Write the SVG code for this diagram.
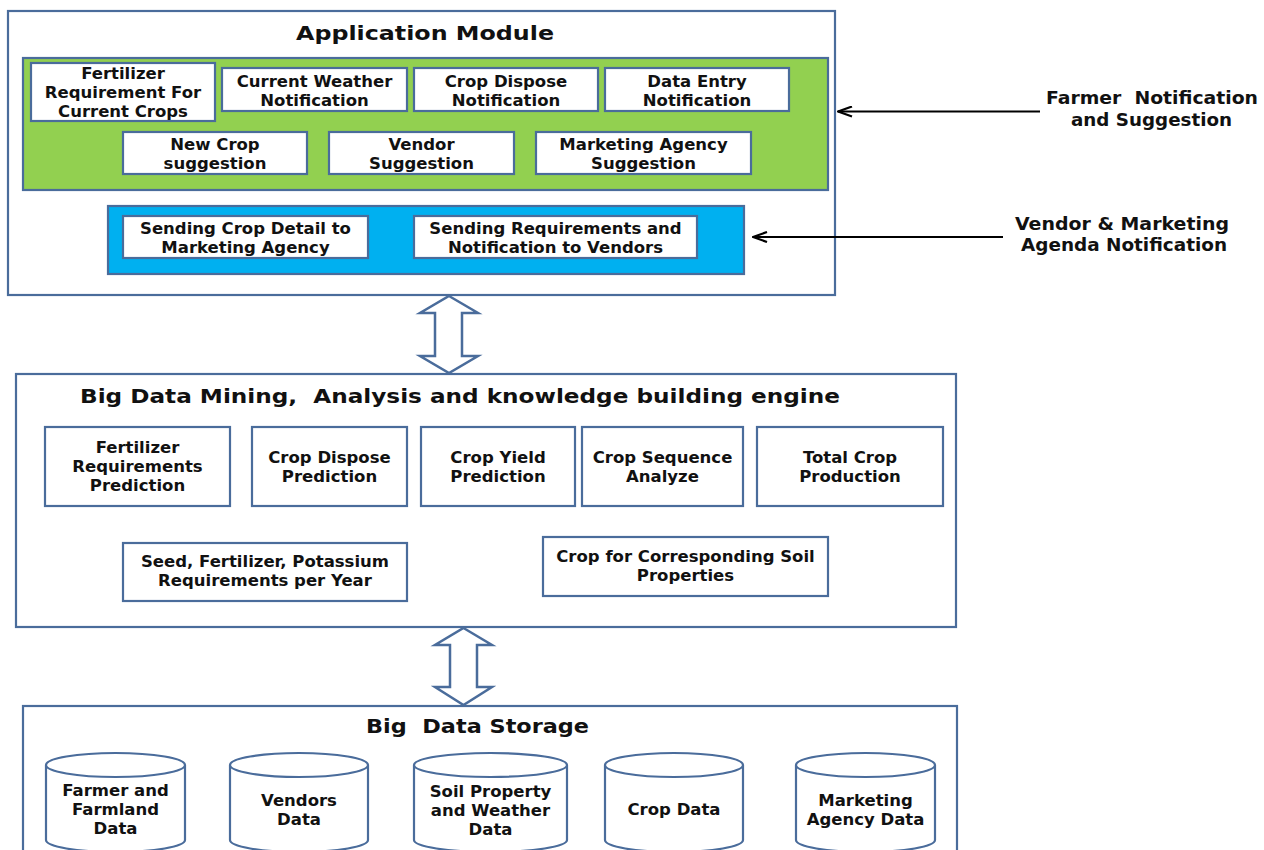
<svg xmlns="http://www.w3.org/2000/svg" width="1264" height="850" viewBox="0 0 1264 850">
<defs>
<style>
.frame{fill:#fff;stroke:#4a6c9b;stroke-width:2.2}
.box{fill:#fff;stroke:#4a6c9b;stroke-width:2.2}
.green{fill:#92d050;stroke:#4a6c9b;stroke-width:2.2}
.blue{fill:#00b0f0;stroke:#4a6c9b;stroke-width:2.2}
.dbl{fill:#fff;stroke:#4a6c9b;stroke-width:2.5;stroke-linejoin:miter}
.cyl{fill:#fff;stroke:#4a6c9b;stroke-width:2.2}
text{font-family:"DejaVu Sans","Liberation Sans",sans-serif;font-weight:bold;fill:#111}
.t{font-size:16.5px;text-anchor:middle}
.title{font-size:20px;white-space:pre}
.side{font-size:17px;white-space:pre}
.conn{stroke:#000;stroke-width:2.2;fill:none}
</style>
<marker id="ah" markerUnits="userSpaceOnUse" viewBox="0 0 16 12" markerWidth="16" markerHeight="12" refX="15" refY="6" orient="auto">
<path d="M1,1 L15,6 L1,11" fill="none" stroke="#000" stroke-width="2.2"/>
</marker>
</defs>

<g id="application-module">
<rect class="frame" x="8" y="11" width="827" height="284"/>
<text class="title" x="296" y="40" textLength="258" lengthAdjust="spacingAndGlyphs">Application Module</text>
<rect class="green" x="23" y="58" width="805" height="132"/>
<rect class="blue" x="108" y="206" width="636" height="68"/>
</g>

<g id="n-fertilizer-req">
<rect class="box" x="31" y="63" width="184" height="58"/>
<text class="t" x="123" y="79">Fertilizer</text>
<text class="t" x="123" y="98">Requirement For</text>
<text class="t" x="123" y="117">Current Crops</text>
</g>
<g id="n-current-weather">
<rect class="box" x="222" y="68" width="185" height="43"/>
<text class="t" x="314.5" y="87">Current Weather</text>
<text class="t" x="314.5" y="106">Notification</text>
</g>
<g id="n-crop-dispose-notif">
<rect class="box" x="414" y="68" width="184" height="43"/>
<text class="t" x="506" y="87">Crop Dispose</text>
<text class="t" x="506" y="106">Notification</text>
</g>
<g id="n-data-entry">
<rect class="box" x="605" y="68" width="184" height="43"/>
<text class="t" x="697" y="87">Data Entry</text>
<text class="t" x="697" y="106">Notification</text>
</g>
<g id="n-new-crop">
<rect class="box" x="123" y="132" width="184" height="42"/>
<text class="t" x="215" y="150">New Crop</text>
<text class="t" x="215" y="169">suggestion</text>
</g>
<g id="n-vendor-sugg">
<rect class="box" x="329" y="132" width="185" height="42"/>
<text class="t" x="421.5" y="150">Vendor</text>
<text class="t" x="421.5" y="169">Suggestion</text>
</g>
<g id="n-marketing-sugg">
<rect class="box" x="536" y="132" width="215" height="42"/>
<text class="t" x="643.5" y="150">Marketing Agency</text>
<text class="t" x="643.5" y="169">Suggestion</text>
</g>
<g id="n-send-crop">
<rect class="box" x="123" y="216" width="245" height="42"/>
<text class="t" x="245.5" y="234">Sending Crop Detail to</text>
<text class="t" x="245.5" y="253">Marketing Agency</text>
</g>
<g id="n-send-req">
<rect class="box" x="414" y="216" width="283" height="42"/>
<text class="t" x="555.5" y="234">Sending Requirements and</text>
<text class="t" x="555.5" y="253">Notification to Vendors</text>
</g>

<g id="mining-engine">
<rect class="frame" x="16" y="374" width="940" height="253"/>
<text class="title" x="80" y="403" font-size="19" textLength="760" lengthAdjust="spacingAndGlyphs">Big Data Mining,  Analysis and knowledge building engine</text>
</g>
<g id="n-fert-pred">
<rect class="box" x="45" y="427" width="185" height="79"/>
<text class="t" x="137.5" y="453">Fertilizer</text>
<text class="t" x="137.5" y="472">Requirements</text>
<text class="t" x="137.5" y="491">Prediction</text>
</g>
<g id="n-dispose-pred">
<rect class="box" x="252" y="427" width="155" height="79"/>
<text class="t" x="329.5" y="463">Crop Dispose</text>
<text class="t" x="329.5" y="482">Prediction</text>
</g>
<g id="n-yield-pred">
<rect class="box" x="421" y="427" width="154" height="79"/>
<text class="t" x="498" y="463">Crop Yield</text>
<text class="t" x="498" y="482">Prediction</text>
</g>
<g id="n-sequence">
<rect class="box" x="582" y="427" width="161" height="79"/>
<text class="t" x="662.5" y="463">Crop Sequence</text>
<text class="t" x="662.5" y="482">Analyze</text>
</g>
<g id="n-total">
<rect class="box" x="757" y="427" width="186" height="79"/>
<text class="t" x="850" y="463">Total Crop</text>
<text class="t" x="850" y="482">Production</text>
</g>
<g id="n-seed">
<rect class="box" x="123" y="543" width="284" height="58"/>
<text class="t" x="265" y="567">Seed, Fertilizer, Potassium</text>
<text class="t" x="265" y="586">Requirements per Year</text>
</g>
<g id="n-soil-crop">
<rect class="box" x="543" y="537" width="285" height="59"/>
<text class="t" x="685.5" y="562">Crop for Corresponding Soil</text>
<text class="t" x="685.5" y="581">Properties</text>
</g>

<g id="storage">
<rect class="frame" x="23" y="706" width="934" height="170"/>
<text class="title" x="366" y="733" font-size="19" textLength="223" lengthAdjust="spacingAndGlyphs">Big  Data Storage</text>
</g>
<g id="db-farmer">
<path class="cyl" d="M46,765 L46,840 A69.5,12 0 0 0 185,840 L185,765 A69.5,12 0 0 0 46,765 A69.5,12 0 0 0 185,765"/>
<text class="t" x="115.5" y="796">Farmer and</text>
<text class="t" x="115.5" y="815">Farmland</text>
<text class="t" x="115.5" y="834">Data</text>
</g>
<g id="db-vendors">
<path class="cyl" d="M230,765 L230,840 A69,12 0 0 0 368,840 L368,765 A69,12 0 0 0 230,765 A69,12 0 0 0 368,765"/>
<text class="t" x="299" y="806">Vendors</text>
<text class="t" x="299" y="825">Data</text>
</g>
<g id="db-soil">
<path class="cyl" d="M414,765 L414,840 A76.5,12 0 0 0 567,840 L567,765 A76.5,12 0 0 0 414,765 A76.5,12 0 0 0 567,765"/>
<text class="t" x="490.5" y="797">Soil Property</text>
<text class="t" x="490.5" y="816">and Weather</text>
<text class="t" x="490.5" y="835">Data</text>
</g>
<g id="db-crop">
<path class="cyl" d="M605,765 L605,840 A69,12 0 0 0 743,840 L743,765 A69,12 0 0 0 605,765 A69,12 0 0 0 743,765"/>
<text class="t" x="674" y="815">Crop Data</text>
</g>
<g id="db-marketing">
<path class="cyl" d="M796,765 L796,840 A69.5,12 0 0 0 935,840 L935,765 A69.5,12 0 0 0 796,765 A69.5,12 0 0 0 935,765"/>
<text class="t" x="865.5" y="806">Marketing</text>
<text class="t" x="865.5" y="825">Agency Data</text>
</g>

<g id="labels">
<text class="side" x="1046" y="104" textLength="212" lengthAdjust="spacingAndGlyphs">Farmer  Notification</text>
<text class="side" x="1071" y="126" textLength="161" lengthAdjust="spacingAndGlyphs">and Suggestion</text>
<text class="side" x="1015" y="230" textLength="214" lengthAdjust="spacingAndGlyphs">Vendor &amp; Marketing</text>
<text class="side" x="1021" y="251" textLength="206" lengthAdjust="spacingAndGlyphs">Agenda Notification</text>
</g>

<g id="connectors">
<line class="conn" x1="1040" y1="111.5" x2="838" y2="111.5" marker-end="url(#ah)"/>
<line class="conn" x1="1003" y1="237" x2="753" y2="237" marker-end="url(#ah)"/>
<polygon class="dbl" points="449,296 478,313 462,313 462,356 478,356 449,373 420,356 435,356 435,313 420,313"/>
<polygon class="dbl" points="463.5,628 492,645 477,645 477,687 492,687 463.5,705 435,687 450,687 450,645 435,645"/>
</g>
</svg>
